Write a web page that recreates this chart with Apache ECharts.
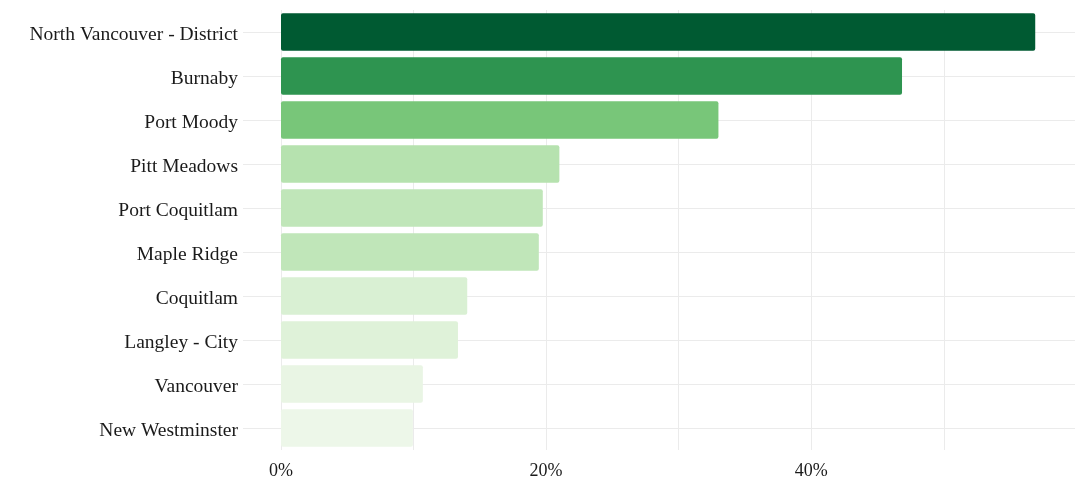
<!DOCTYPE html>
<html>
<head>
<meta charset="utf-8">
<script src="https://cdn.jsdelivr.net/npm/echarts@6/dist/echarts.min.js"></script>
<style>
html,body{margin:0;padding:0;background:#fff;}
#chart{width:1080px;height:504px;}
</style>
</head>
<body>
<div id="chart"></div>
<script>
// Data (top to bottom)
var categories = ["North Vancouver - District","Burnaby","Port Moody","Pitt Meadows","Port Coquitlam","Maple Ridge","Coquitlam","Langley - City","Vancouver","New Westminster"];
var values = [56.9, 46.85, 33.0, 21.0, 19.75, 19.45, 14.05, 13.35, 10.7, 9.95];
var barColors = ["#005a32","#2e9450","#78c679","#b6e2af","#c0e6b9","#c0e6b9","#d9f0d3","#dff2d9","#e9f5e4","#edf7e9"];
var tickLabels = [0, 20, 40];

var FONT = "'Liberation Serif', 'DejaVu Serif', serif";
var chart = echarts.init(document.getElementById('chart'), null, {renderer:'canvas'});
chart.setOption({
  animation: false,
  backgroundColor: '#ffffff',
  grid: {left: 281, right: 5, top: 10, height: 440, containLabel: false},
  xAxis: {
    type: 'value', min: 0, max: 59.9, interval: 10,
    axisLine: {show: false}, axisTick: {show: false},
    splitLine: {show: true, showMaxLine: false, lineStyle: {color: '#ebebeb', width: 1}},
    axisLabel: {
      margin: 12, color: '#1a1a1a', fontFamily: FONT, fontSize: 18,
      showMaxLabel: false,
      formatter: function (v) { return tickLabels.indexOf(v) >= 0 ? v + '%' : ''; }
    }
  },
  yAxis: {
    type: 'category', data: categories, inverse: true,
    axisLine: {show: false},
    axisTick: {show: true, alignWithLabel: true, length: 38, lineStyle: {color: '#ebebeb', width: 1}},
    splitLine: {show: false},
    axisLabel: {
      margin: 43, color: '#1a1a1a', fontFamily: FONT, fontSize: 19.5,
      formatter: function (v) { return '{a|' + v + '}'; },
      rich: {a: {fontFamily: FONT, fontSize: 19.5, color: '#1a1a1a', padding: [5, 0, 0, 0]}}
    }
  },
  series: [{
    type: 'bar', z: 2,
    barWidth: '85%',
    data: values.map(function (v, i) { return {value: v, itemStyle: {color: barColors[i], borderRadius: 2}}; }),
    markLine: {
      silent: true, z: 1, symbol: 'none', label: {show: false},
      lineStyle: {color: '#ebebeb', width: 1, type: 'solid'},
      emphasis: {disabled: true},
      data: categories.map(function (c) { return {yAxis: c}; })
    }
  }]
});
</script>
</body>
</html>
